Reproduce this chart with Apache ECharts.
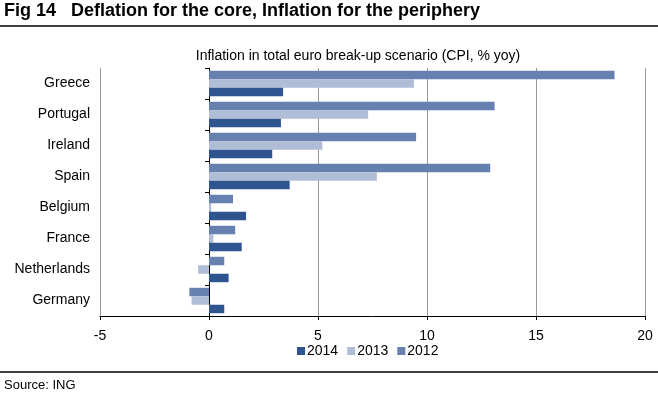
<!DOCTYPE html>
<html lang="en" style="height: 100%">
  <head>
    <meta charset="utf-8" />
  </head>
  <body style="height: 100%; margin: 0; background: #fff">
    <div id="container" style="width: 658px; height: 396px"></div>

    <script
      type="text/javascript"
      src="https://fastly.jsdelivr.net/npm/echarts@6/dist/echarts.min.js"
    ></script>

    <script type="text/javascript">
      var countries = ["Greece", "Portugal", "Ireland", "Spain", "Belgium", "France", "Netherlands", "Germany"];
      var cpi2012 = [18.6, 13.1, 9.5, 12.9, 1.1, 1.2, 0.7, -0.9];
      var cpi2013 = [9.4, 7.3, 5.2, 7.7, 0.1, 0.2, -0.5, -0.8];
      var cpi2014 = [3.4, 3.3, 2.9, 3.7, 1.7, 1.5, 0.9, 0.7];
      var xTicks = { min: -5, max: 20, step: 5 };

      var font = "Liberation Sans, Arial, sans-serif";
      var dom = document.getElementById("container");
      var myChart = echarts.init(dom, null, { renderer: "canvas" });

      var option = {
        animation: false,
        textStyle: { fontFamily: font },
        title: {
          text: "Inflation in total euro break-up scenario (CPI, % yoy)",
          left: 353,
          top: 44,
          textAlign: "center",
          textStyle: { fontSize: 14, fontWeight: "normal", color: "#000", fontFamily: font },
        },
        legend: {
          data: ["2014", "2013", "2012"],
          left: 292,
          top: 339,
          icon: "rect",
          itemWidth: 8,
          itemHeight: 8,
          itemGap: 9,
          textStyle: { fontSize: 14, color: "#000", fontFamily: font, padding: [0, 0, 0, -3] },
        },
        grid: {
          left: 100,
          right: 13,
          top: 68,
          bottom: 80,
          containLabel: false,
          outerBoundsMode: "none",
        },
        xAxis: {
          type: "value",
          min: xTicks.min,
          max: xTicks.max,
          interval: xTicks.step,
          axisLine: { show: true, lineStyle: { color: "#000", width: 1 } },
          axisTick: { show: true, length: 4, lineStyle: { color: "#000" } },
          axisLabel: { fontSize: 14, color: "#000", margin: 13, fontFamily: font },
          splitLine: { show: true, lineStyle: { color: "#999", width: 1 } },
        },
        yAxis: [
          {
            // axis line and ticks sitting on zero
            type: "category",
            data: countries,
            inverse: true,
            axisLine: { show: true, onZero: true, lineStyle: { color: "#000", width: 1 } },
            axisTick: { show: true, length: 4, lineStyle: { color: "#000" } },
            axisLabel: { show: false },
          },
          {
            // country names at the left edge of the plot
            type: "category",
            data: countries,
            inverse: true,
            position: "left",
            axisLine: { show: false, onZero: false },
            axisTick: { show: false },
            axisLabel: { fontSize: 14, color: "#000", margin: 10, fontFamily: font },
            splitLine: { show: false },
          },
        ],
        series: [
          {
            name: "2012",
            type: "bar",
            data: cpi2012,
            itemStyle: { color: "#6680b0" },
            barGap: 0,
            barCategoryGap: "18%",
          },
          {
            name: "2013",
            type: "bar",
            data: cpi2013,
            itemStyle: { color: "#b0bdd6" },
          },
          {
            name: "2014",
            type: "bar",
            data: cpi2014,
            itemStyle: { color: "#2f5590" },
          },
        ],
        graphic: [
          {
            type: "text",
            left: 4,
            top: 2,
            style: {
              text: "Fig 14   Deflation for the core, Inflation for the periphery",
              font: "bold 18px " + font,
              fill: "#000",
            },
          },
          {
            type: "line",
            shape: { x1: 0, y1: 26, x2: 658, y2: 26 },
            style: { stroke: "#000", lineWidth: 1.5 },
          },
          {
            type: "line",
            shape: { x1: 0, y1: 372, x2: 658, y2: 372 },
            style: { stroke: "#000", lineWidth: 1.5 },
          },
          {
            type: "text",
            left: 4,
            top: 379,
            style: { text: "Source: ING", font: "13px " + font, fill: "#000" },
          },
        ],
      };

      myChart.setOption(option);
      window.addEventListener("resize", myChart.resize);
    </script>
  </body>
</html>
